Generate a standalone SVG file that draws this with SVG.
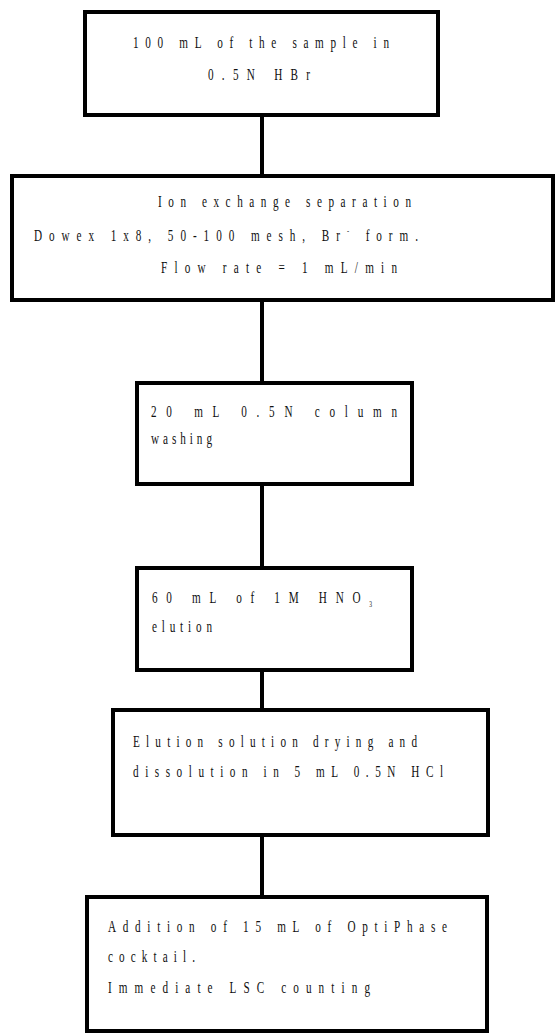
<svg xmlns="http://www.w3.org/2000/svg" width="556" height="1036" viewBox="0 0 556 1036">
<style>
.box{fill:#fff;stroke:#000;stroke-width:4}
.conn{stroke:#000;stroke-width:4;fill:none}
text{font-family:"Liberation Serif","Times New Roman",serif;font-size:16px;fill:#111}
</style>
<rect width="556" height="1036" fill="#fff"/>
<g id="connectors">
<line class="conn" x1="262" y1="115" x2="262" y2="176"/>
<line class="conn" x1="262" y1="300" x2="262" y2="383"/>
<line class="conn" x1="262" y1="484" x2="262" y2="568"/>
<line class="conn" x1="262" y1="670" x2="262" y2="710"/>
<line class="conn" x1="262" y1="835" x2="262" y2="897"/>
</g>
<g id="n1">
<rect class="box" x="85" y="12" width="353" height="103"/>
<g transform="scale(0.7 1)">
<text x="190" y="48" textLength="365.71" lengthAdjust="spacing">100 mL of the sample in</text>
<text x="297.14" y="80" textLength="145.71" lengthAdjust="spacing">0.5N HBr</text>
</g>
</g>
<g id="n2">
<rect class="box" x="12" y="176" width="541" height="124"/>
<g transform="scale(0.7 1)">
<text x="225.71" y="207" textLength="361.43" lengthAdjust="spacing">Ion exchange separation</text>
<text x="48.57" y="241" textLength="548.57" lengthAdjust="spacing">Dowex 1x8, 50-100 mesh, Br<tspan font-size="9" dy="-7">-</tspan><tspan dy="7"> form.</tspan></text>
<text x="230" y="273" textLength="337.14" lengthAdjust="spacing">Flow rate = 1 mL/min</text>
</g>
</g>
<g id="n3">
<rect class="box" x="137" y="383" width="275" height="101"/>
<g transform="scale(0.7 1)">
<text x="215.71" y="417" textLength="351.43" lengthAdjust="spacing">20 mL 0.5N column</text>
<text x="215.71" y="444" textLength="87.14" lengthAdjust="spacing">washing</text>
</g>
</g>
<g id="n4">
<rect class="box" x="137" y="568" width="275" height="102"/>
<g transform="scale(0.7 1)">
<text x="217.14" y="603" textLength="314.29" lengthAdjust="spacing">60 mL of 1M HNO<tspan font-size="8" dy="4">3</tspan></text>
<text x="217.14" y="632" textLength="85.71" lengthAdjust="spacing">elution</text>
</g>
</g>
<g id="n5">
<rect class="box" x="113" y="710" width="375" height="125"/>
<g transform="scale(0.7 1)">
<text x="190" y="747" textLength="405.71" lengthAdjust="spacing">Elution solution drying and</text>
<text x="190" y="777" textLength="442.86" lengthAdjust="spacing">dissolution in 5 mL 0.5N HCl</text>
</g>
</g>
<g id="n6">
<rect class="box" x="87" y="897" width="400" height="134"/>
<g transform="scale(0.7 1)">
<text x="154.29" y="932" textLength="484.29" lengthAdjust="spacing">Addition of 15 mL of OptiPhase</text>
<text x="154.29" y="962" textLength="124.29" lengthAdjust="spacing">cocktail.</text>
<text x="154.29" y="993" textLength="374.29" lengthAdjust="spacing">Immediate LSC counting</text>
</g>
</g>
</svg>
